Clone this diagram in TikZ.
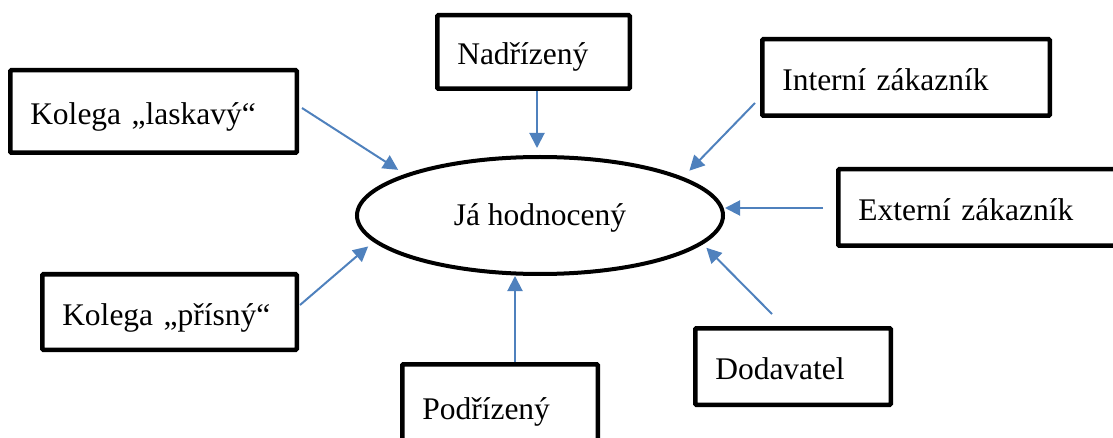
\documentclass[tikz,border=0pt]{standalone}
\usepackage{fontspec}
\setmainfont{Liberation Serif}
\usetikzlibrary{arrows.meta,shapes.geometric}
\definecolor{arrowblue}{RGB}{79,129,189}

\begin{document}
\begin{tikzpicture}[x=1pt,y=1pt,yscale=-1,xscale=1,
  box/.style={draw=black,line width=4.5pt,rounded corners=1pt,inner xsep=20pt,inner ysep=0pt,
    align=left,text height=30pt,text depth=4pt,font=\fontsize{31.5}{37}\selectfont,
    minimum width=#1,text width=#1-40pt},
  arr/.style={draw=arrowblue,line width=2pt,-{Triangle[length=15pt,width=15pt]}}]
\useasboundingbox (0,0) rectangle (1113,438);

%Shape: Ellipse [id:ell]
\node [draw=black,ellipse,line width=4pt,minimum width=366pt,minimum height=117pt,inner sep=0pt,
  text height=25pt,text depth=4pt,font=\fontsize{31.5}{37}\selectfont] (ell) at (540,215.5) {Já hodnocený};

% Text Node
\node [box=192.5pt,minimum height=73.5pt] (nad) at (533.5,52) {Nadřízený};
% Text Node
\node [box=287.5pt,minimum height=76.5pt] (int) at (906,77.5) {Interní zákazník};
% Text Node
\node [box=286.5pt,minimum height=82.5pt] (las) at (153.5,111.5) {Kolega „laskavý“};
% Text Node
\node [box=289.5pt,minimum height=76.5pt] (ext) at (983,207.5) {Externí zákazník};
% Text Node
\node [box=254.5pt,minimum height=75.5pt] (pri) at (169.5,312) {Kolega „přísný“};
% Text Node
\node [box=195.5pt,minimum height=76.5pt] (dod) at (793,366.5) {Dodavatel};
% Text Node
\node [box=195.5pt,minimum height=83.5pt] (pod) at (500,406) {Podřízený};

%Shape: arrow starts
\coordinate (nadA) at (537,91);
\coordinate (intA) at (755,103);
\coordinate (lasA) at (302,108);
\coordinate (extA) at (823,208);
\coordinate (priA) at (300,305);
\coordinate (dodA) at (772,314);
\coordinate (podA) at (515,362);

%Shape: Arrows
\draw [arr,shorten >=7pt] (nadA) -- (nadA |- ell.north);
\draw [arr,shorten >=9pt] (intA) -- (ell.15);
\draw [arr,shorten >=8pt] (lasA) -- (ell.163);
\draw [arr] (extA) -- (extA -| ell.east);
\draw [arr,shorten >=7pt] (priA) -- (ell.189);
\draw [arr,shorten >=5pt] (dodA) -- (ell.350);
\draw [arr] (podA) -- (podA |- ell.south);

\end{tikzpicture}
\end{document}
